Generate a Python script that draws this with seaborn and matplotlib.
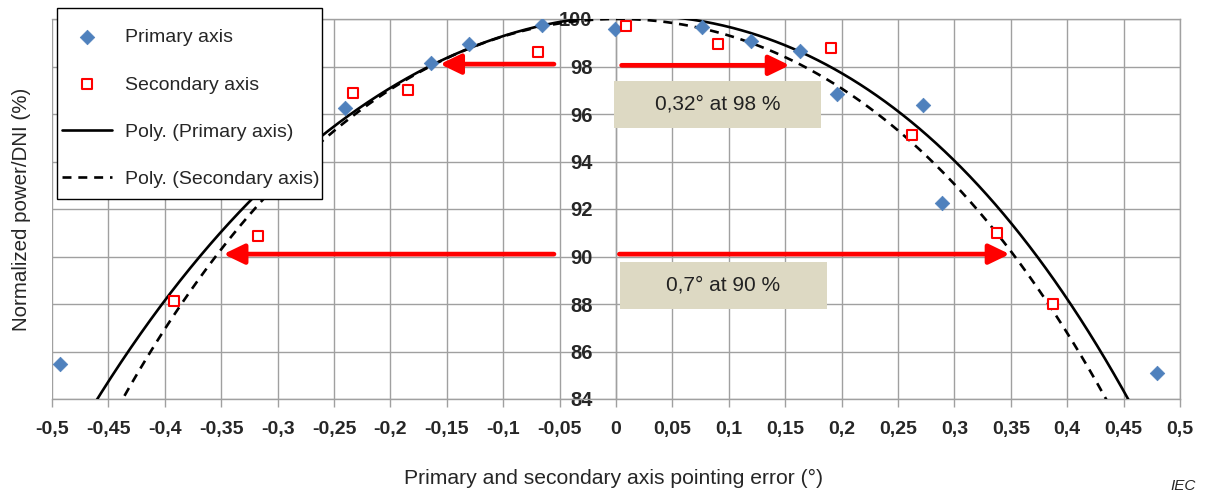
import numpy as np
import pandas as pd
import seaborn as sns
import matplotlib.pyplot as plt
from matplotlib.patches import Rectangle

# ---------------- data ----------------
primary_x = [-0.493, -0.240, -0.164, -0.130, -0.066, -0.001, 0.076, 0.120, 0.163, 0.196, 0.272, 0.289, 0.480]
primary_y = [85.47, 96.25, 98.15, 98.95, 99.75, 99.58, 99.66, 99.07, 98.65, 96.84, 96.38, 92.25, 85.10]
secondary_x = [-0.392, -0.317, -0.233, -0.184, -0.069, 0.009, 0.090, 0.191, 0.262, 0.338, 0.387]
secondary_y = [88.13, 90.86, 96.88, 97.00, 98.60, 99.70, 98.95, 98.78, 95.10, 91.00, 88.00]

# points read along the drawn polynomial trendlines (used to recover the trendline polynomials)
trend_primary_x = [-0.460, -0.433, -0.401, -0.369, -0.238, -0.160, -0.050, 0.066, 0.119,
                   0.190, 0.258, 0.299, 0.338, 0.374, 0.404, 0.429, 0.454]
trend_primary_y = [84, 86, 88, 90, 96, 98, 100.0, 100.0, 99.26,
                   98, 96, 94, 92, 90, 88, 86, 84]
trend_secondary_x = [-0.434, -0.416, -0.387, -0.354, -0.231, -0.160, -0.014, 0.050, 0.119,
                     0.164, 0.237, 0.280, 0.318, 0.351, 0.385, 0.411, 0.434]
trend_secondary_y = [84, 86, 88, 90, 96, 98, 100.0, 100.0, 98.9,
                     98, 96, 94, 92, 90, 88, 86, 84]

x_ticks = [-0.5, -0.45, -0.4, -0.35, -0.3, -0.25, -0.2, -0.15, -0.1, -0.05, 0.0,
           0.05, 0.1, 0.15, 0.2, 0.25, 0.3, 0.35, 0.4, 0.45, 0.5]
x_tick_labels = ["-0,5", "-0,45", "-0,4", "-0,35", "-0,3", "-0,25", "-0,2", "-0,15", "-0,1", "-0,05", "0",
                 "0,05", "0,1", "0,15", "0,2", "0,25", "0,3", "0,35", "0,4", "0,45", "0,5"]
y_ticks = [84, 86, 88, 90, 92, 94, 96, 98, 100]
y_tick_labels = ["84", "86", "88", "90", "92", "94", "96", "98", "100"]

# annotation arrows: (start x, tip x, y)
arrows = [(-0.055, -0.156, 98.1), (0.005, 0.154, 98.05), (-0.055, -0.348, 90.1), (0.003, 0.349, 90.1)]
# annotation boxes: (x0, x1, y0, y1, text)
boxes = [(-0.002, 0.182, 95.41, 97.39, "0,32° at 98 %"),
         (0.0035, 0.187, 87.79, 89.77, "0,7° at 90 %")]

# ---------------- style ----------------
sns.set_style("white")
plt.rcParams['font.family'] = ['Liberation Sans', 'DejaVu Sans']

W, H = 1207, 493
fig = plt.figure(figsize=(W / 100, H / 100), dpi=100)
ax = fig.add_axes([52 / W, 1 - 399 / H, (1180 - 52) / W, (399 - 19) / H])

grid_c = "#a0a0a0"
blue = "#4F81BD"
red = "#FF0000"

coef_p = np.polyfit(trend_primary_x, trend_primary_y, 4)
coef_s = np.polyfit(trend_secondary_x, trend_secondary_y, 4)
xs = np.linspace(-0.5, 0.5, 801)
curves = pd.DataFrame({
    "x": xs,
    "p": np.polyval(coef_p, xs),
    "s": np.polyval(coef_s, xs),
})
prim = pd.DataFrame({"x": primary_x, "y": primary_y})
sec = pd.DataFrame({"x": secondary_x, "y": secondary_y})

sns.lineplot(data=curves, x="x", y="p", ax=ax, color="black", lw=1.9,
             label="Poly. (Primary axis)", zorder=3)
sns.lineplot(data=curves, x="x", y="s", ax=ax, color="black", lw=1.9,
             linestyle=(0, (3.4, 2.6)), label="Poly. (Secondary axis)", zorder=3)
sns.scatterplot(data=prim, x="x", y="y", ax=ax, marker="D", s=55, color=blue,
                edgecolor=blue, linewidth=0.5, label="Primary axis", zorder=4)
sns.scatterplot(data=sec, x="x", y="y", ax=ax, marker="s", s=55, facecolor="white",
                edgecolor=red, linewidth=1.5, label="Secondary axis", zorder=4)

for sp in ax.spines.values():
    sp.set_color(grid_c)
    sp.set_linewidth(1.0)
ax.spines['left'].set_position(('data', 0))

ax.set_xlim(-0.5, 0.5)
ax.set_ylim(84, 100)
ax.set_xticks(x_ticks)
ax.set_xticklabels(x_tick_labels, fontsize=14, fontweight="bold")
ax.set_yticks(y_ticks)
ax.set_yticklabels(y_tick_labels, fontsize=14.5, fontweight="bold")
ax.grid(True, color=grid_c, lw=1.0, zorder=0)
ax.set_axisbelow(True)
ax.tick_params(axis='y', length=0, pad=17)
ax.tick_params(axis='x', length=6, width=1.0, color=grid_c, direction='out', pad=10, bottom=True)

ax.set_xlabel("Primary and secondary axis pointing error (°)", fontsize=15.2)
ax.set_ylabel("Normalized power/DNI (%)", fontsize=14.8)
ax.xaxis.label.set_va('center')
ax.xaxis.set_label_coords(0.498, -0.208)
ax.yaxis.label.set_va('center')
ax.yaxis.set_label_coords(-0.027, 0.5)

# arrows
for x0, x1, yv in arrows:
    ax.annotate("", xy=(x1, yv), xytext=(x0, yv),
                arrowprops=dict(arrowstyle="-|>,head_length=0.62,head_width=0.3",
                                color=red, lw=3.4, mutation_scale=20,
                                shrinkA=0, shrinkB=0), zorder=5)

# boxes
for bx0, bx1, by0, by1, txt in boxes:
    ax.add_patch(Rectangle((bx0, by0), bx1 - bx0, by1 - by0, facecolor="#DDD9C3",
                           edgecolor="none", zorder=5))
    ax.text((bx0 + bx1) / 2, (by0 + by1) / 2, txt, ha="center", va="center",
            fontsize=15, color="#222222", zorder=6)

# legend (frame drawn separately for exact padding)
handles, labels = ax.get_legend_handles_labels()
order = ["Primary axis", "Secondary axis", "Poly. (Primary axis)", "Poly. (Secondary axis)"]
hmap = dict(zip(labels, handles))
leg = ax.legend([hmap[k] for k in order], order, loc="upper left",
                bbox_to_anchor=(55 / W, 1 - 22 / H), bbox_transform=fig.transFigure,
                fontsize=14, frameon=False, borderpad=0.35, labelspacing=1.52,
                handlelength=2.6, handletextpad=0.65, borderaxespad=0)
leg.set_zorder(10)
frame = Rectangle((57 / W, 1 - 199 / H), (322 - 57) / W, (199 - 8) / H,
                  transform=fig.transFigure, facecolor="white",
                  edgecolor="black", lw=1.0, zorder=9, clip_on=False)
ax.add_artist(frame)

fig.text(1196 / W, 1 - 486 / H, "IEC", ha="right", va="center", fontsize=11, style="italic")

fig.savefig("out.png", dpi=100)
